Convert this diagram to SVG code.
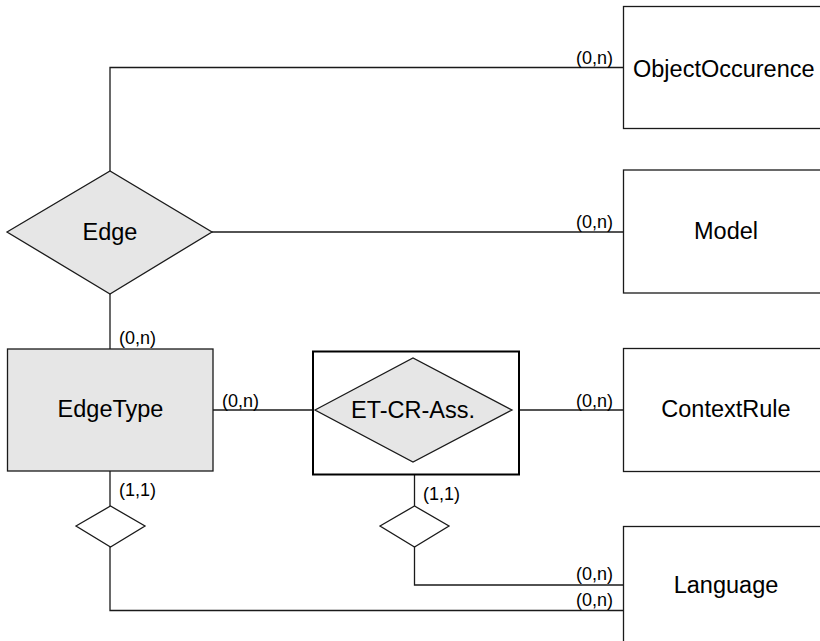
<svg xmlns="http://www.w3.org/2000/svg" width="820" height="641" viewBox="0 0 820 641">
<style>
.ent{fill:#ffffff;stroke:#1a1a1a;stroke-width:1.3}
.gray{fill:#e6e6e6;stroke:#1a1a1a;stroke-width:1.3}
.assoc{fill:#ffffff;stroke:#000000;stroke-width:2}
.conn{fill:none;stroke:#1a1a1a;stroke-width:1.3}
.name{font-family:"Liberation Sans",Arial,sans-serif;font-size:23.5px;fill:#000000}
.card{font-family:"Liberation Sans",Arial,sans-serif;font-size:18px;fill:#000000}
</style>
<rect x="0" y="0" width="820" height="641" fill="#ffffff"/>
<g id="connectors">
<polyline class="conn" points="110,171 110,67.5 623,67.5"/>
<line class="conn" x1="212" y1="232" x2="623" y2="232"/>
<line class="conn" x1="110" y1="294" x2="110" y2="349"/>
<line class="conn" x1="213" y1="410" x2="315" y2="410"/>
<line class="conn" x1="512" y1="410" x2="623" y2="410"/>
<line class="conn" x1="110" y1="471" x2="110" y2="506"/>
<polyline class="conn" points="110,547 110,610.5 623,610.5"/>
<line class="conn" x1="414.5" y1="475" x2="414.5" y2="506"/>
<polyline class="conn" points="414.5,547 414.5,585 623,585"/>
<text class="card" x="576" y="64">(0,n)</text>
<text class="card" x="576" y="228">(0,n)</text>
<text class="card" x="119" y="344">(0,n)</text>
<text class="card" x="222" y="407">(0,n)</text>
<text class="card" x="576" y="407">(0,n)</text>
<text class="card" x="119" y="496">(1,1)</text>
<text class="card" x="423" y="500">(1,1)</text>
<text class="card" x="576" y="580">(0,n)</text>
<text class="card" x="576" y="606">(0,n)</text>
</g>
<g id="ObjectOccurence">
<rect class="ent" x="623.5" y="6.5" width="206" height="122"/>
<text class="name" x="633" y="77" font-size="22">ObjectOccurence</text>
</g>
<g id="Edge">
<polygon class="gray" points="7,232 110,171 212,232 110,294"/>
<text class="name" x="110" y="240" text-anchor="middle">Edge</text>
</g>
<g id="Model">
<rect class="ent" x="623.5" y="170" width="206" height="123"/>
<text class="name" x="726" y="239" text-anchor="middle">Model</text>
</g>
<g id="EdgeType">
<rect class="gray" x="7.5" y="349" width="205.5" height="122"/>
<text class="name" x="110.5" y="417" text-anchor="middle">EdgeType</text>
</g>
<g id="ET-CR-Ass">
<rect class="assoc" x="313" y="351.5" width="206" height="123"/>
<polygon class="gray" points="315,410 413,358 512,410 413,462"/>
<text class="name" x="413" y="418" text-anchor="middle" font-size="24">ET-CR-Ass.</text>
</g>
<g id="ContextRule">
<rect class="ent" x="623.5" y="348.5" width="206" height="123"/>
<text class="name" x="726" y="417" text-anchor="middle">ContextRule</text>
</g>
<g id="EdgeType-Language">
<polygon class="ent" points="76,526 110.5,506 145,526 110.5,547"/>
</g>
<g id="ETCR-Language">
<polygon class="ent" points="380,526 414.5,506 449,526 414.5,547"/>
</g>
<g id="Language">
<rect class="ent" x="623.5" y="526.5" width="206" height="123"/>
<text class="name" x="726" y="593" text-anchor="middle">Language</text>
</g>
</svg>
